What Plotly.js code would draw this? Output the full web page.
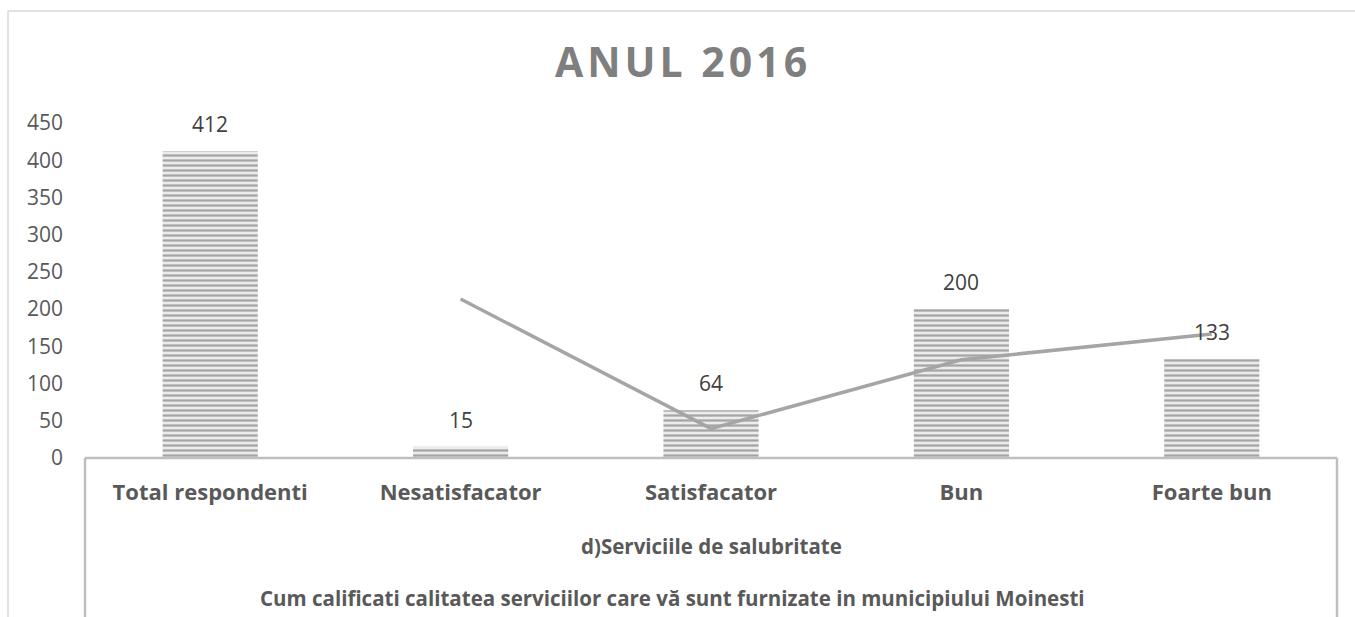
<!DOCTYPE html>
<html>
<head>
<meta charset="utf-8">
<script src="https://cdn.plot.ly/plotly-3.0.1.min.js"></script>
<style>
html,body{margin:0;padding:0;background:#fff;}
#chart{width:1355px;height:617px;}
.gtitle{letter-spacing:4px;}
</style>
</head>
<body>
<div id="chart"></div>
<script>
// ---- data ----
const categories = ["Total respondenti", "Nesatisfacator", "Satisfacator", "Bun", "Foarte bun"];
const barValues = [412, 15, 64, 200, 133];
const lineCategories = ["Nesatisfacator", "Satisfacator", "Bun", "Foarte bun"];
const lineValues = [213.5, 39.5, 132, 166.5];
const yTicks = [0, 50, 100, 150, 200, 250, 300, 350, 400, 450];
const titleText = "ANUL 2016";
const groupLabel = "d)Serviciile de salubritate";
const questionLabel = "Cum calificati calitatea serviciilor care vă sunt furnizate in municipiului Moinesti";

const FONT = "Open Sans, Liberation Sans, sans-serif";
const GRID = "#bfbfbf";

const bars = {
  type: "bar",
  x: categories,
  y: barValues,
  width: 0.38,
  marker: {
    color: "#ebebeb",
    line: {width: 0},
    pattern: {shape: "-", fgcolor: "#a5a5a5", bgcolor: "#ececec", size: 5, solidity: 0.45}
  },
  hoverinfo: "x+y",
  showlegend: false
};

const line = {
  type: "scatter",
  mode: "lines",
  x: lineCategories,
  y: lineValues,
  line: {color: "#a5a5a5", width: 3.5},
  hoverinfo: "x+y",
  showlegend: false
};

const labelAnnotations = categories.map((c, i) => ({
  x: c, y: barValues[i], xref: "x", yref: "y",
  text: String(barValues[i]), showarrow: false,
  yanchor: "bottom", yshift: 11,
  font: {family: FONT, size: 21, color: "#404040"}
}));

// paper coordinates helpers (plot area: x 85..1337, y 123..458)
const px = v => (v - 85) / 1252;
const py = v => (458 - v) / 335;

const layout = {
  width: 1355, height: 617,
  margin: {l: 85, r: 18, t: 123, b: 159},
  paper_bgcolor: "#ffffff",
  plot_bgcolor: "#ffffff",
  font: {family: FONT, color: "#595959"},
  title: {
    text: "<b>" + titleText + "</b>",
    font: {family: FONT, size: 41, color: "#7f7f7f"},
    x: 683 / 1355, xanchor: "center", xref: "container",
    y: 1 - 63 / 617, yanchor: "middle", yref: "container"
  },
  bargap: 0.62,
  xaxis: {
    type: "category",
    categoryorder: "array",
    categoryarray: categories,
    showgrid: false,
    zeroline: false,
    showline: false,
    ticks: "",
    tickfont: {family: FONT, size: 22, color: "#595959", weight: "bold"},
    ticklabelstandoff: 19,
    fixedrange: true
  },
  yaxis: {
    range: [0, 450],
    tickvals: yTicks,
    showgrid: false,
    zeroline: false,
    showline: false,
    ticks: "",
    tickfont: {family: FONT, size: 21, color: "#595959"},
    ticklabelstandoff: 21,
    fixedrange: true
  },
  annotations: labelAnnotations.concat([
    {x: 0.5, y: py(546), xref: "paper", yref: "paper", text: "<b>" + groupLabel + "</b>",
     showarrow: false, xanchor: "center", yanchor: "middle",
     font: {family: FONT, size: 20.5, color: "#595959"}},
    {x: px(672), y: py(598), xref: "paper", yref: "paper", text: "<b>" + questionLabel + "</b>",
     showarrow: false, xanchor: "center", yanchor: "middle",
     font: {family: FONT, size: 20.5, color: "#595959"}}
  ]),
  shapes: [
    // chart outer border (top + left)
    {type: "line", xref: "paper", yref: "paper", x0: px(8), x1: px(1360), y0: py(11), y1: py(11), line: {color: "#d9d9d9", width: 1.5}},
    {type: "line", xref: "paper", yref: "paper", x0: px(8), x1: px(8), y0: py(11), y1: py(620), line: {color: "#d9d9d9", width: 1.5}},
    // category axis line and group box
    {type: "line", xref: "paper", yref: "paper", x0: 0, x1: 1, y0: 0, y1: 0, line: {color: GRID, width: 2.5}, layer: "above"},
    {type: "line", xref: "paper", yref: "paper", x0: 0, x1: 0, y0: 0, y1: py(620), line: {color: GRID, width: 2.5}},
    {type: "line", xref: "paper", yref: "paper", x0: 1, x1: 1, y0: 0, y1: py(620), line: {color: GRID, width: 2.5}}
  ]
};

Plotly.newPlot("chart", [bars, line], layout, {displayModeBar: false, staticPlot: true});
</script>
</body>
</html>
